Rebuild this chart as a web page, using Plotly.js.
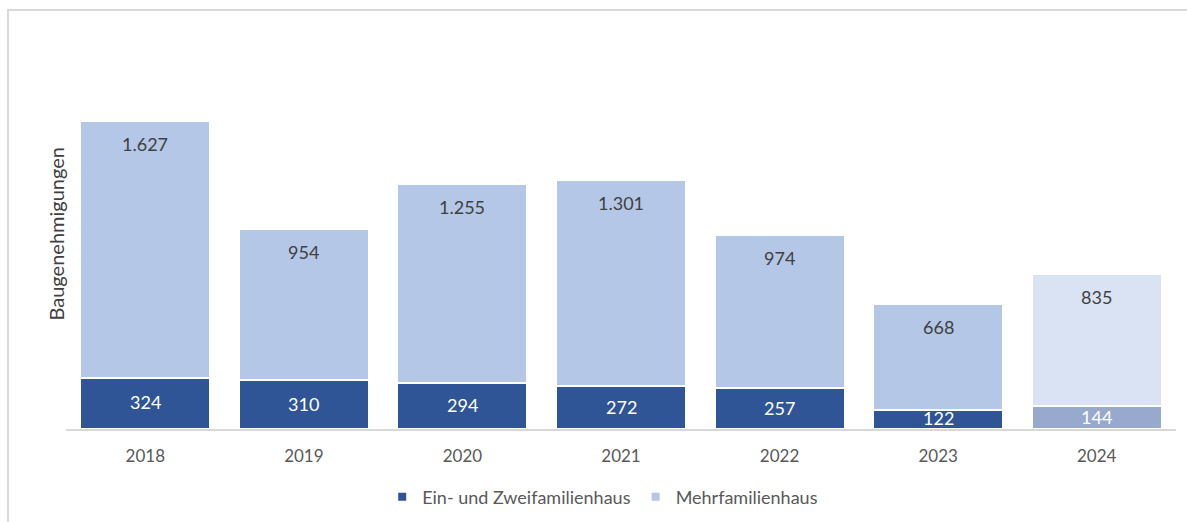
<!DOCTYPE html>
<html>
<head>
<meta charset="utf-8">
<script src="https://cdn.plot.ly/plotly-3.0.1.min.js"></script>
<style>
  html, body { margin: 0; padding: 0; background: #fff; overflow: hidden; }
  #wrap { position: relative; width: 1187px; height: 522px; }
  #chart { position: absolute; left: 0; top: 0; width: 1187px; height: 522px; }
  #frame { position: absolute; left: 7px; top: 9px; width: 1300px; height: 600px;
           border-left: 2px solid #d9d9d9; border-top: 2px solid #d9d9d9; pointer-events: none; }
</style>
</head>
<body>
<div id="wrap">
  <div id="chart"></div>
  <div id="frame"></div>
</div>
<script>
// ---- Data ----
const years = ['2018', '2019', '2020', '2021', '2022', '2023', '2024'];
const einZweifamilienhaus = [324, 310, 294, 272, 257, 122, 144];
const mehrfamilienhaus = [1627, 954, 1255, 1301, 974, 668, 835];
const seriesNames = ['Ein- und Zweifamilienhaus', 'Mehrfamilienhaus'];
const yTitle = 'Baugenehmigungen';

// ---- Styles ----
const darkBlue = '#2f5597';
const lightBlue = '#b4c7e7';
const darkBlue2024 = '#97aacd';
const lightBlue2024 = '#dae3f3';
const font = 'Lato, "Open Sans", sans-serif';

function fmt(v) {
  if (v >= 1000) return Math.floor(v / 1000) + '.' + String(v % 1000).padStart(3, '0');
  return String(v);
}

const lowerColors = years.map((y, i) => i === years.length - 1 ? darkBlue2024 : darkBlue);
const upperColors = years.map((y, i) => i === years.length - 1 ? lightBlue2024 : lightBlue);

const traces = [
  {
    type: 'bar', x: years, y: einZweifamilienhaus, name: seriesNames[0],
    marker: { color: lowerColors, line: { color: '#ffffff', width: 2 } },
    showlegend: false, hoverinfo: 'x+y+name'
  },
  {
    type: 'bar', x: years, y: mehrfamilienhaus, name: seriesNames[1],
    marker: { color: upperColors, line: { color: '#ffffff', width: 2 } },
    showlegend: false, hoverinfo: 'x+y+name'
  },
  {
    type: 'scatter', mode: 'markers', x: [years[0]], y: [null], name: seriesNames[0],
    marker: { symbol: 'square', size: 8, color: darkBlue }, showlegend: true, hoverinfo: 'skip'
  },
  {
    type: 'scatter', mode: 'markers', x: [years[0]], y: [null], name: seriesNames[1],
    marker: { symbol: 'square', size: 8, color: lightBlue }, showlegend: true, hoverinfo: 'skip'
  }
];

const annotations = [];
years.forEach((yr, i) => {
  annotations.push({
    x: i, y: einZweifamilienhaus[i] / 2, xref: 'x', yref: 'y',
    text: fmt(einZweifamilienhaus[i]), showarrow: false, yanchor: 'middle', yshift: 1,
    font: { family: font, size: 18, color: '#ffffff' }
  });
  annotations.push({
    x: i, y: einZweifamilienhaus[i] + mehrfamilienhaus[i], xref: 'x', yref: 'y',
    text: fmt(mehrfamilienhaus[i]), showarrow: false, yanchor: 'middle', yshift: -23,
    font: { family: font, size: 18, color: '#404040' }
  });
});
annotations.push({
  x: 0, y: 0.5, xref: 'paper', yref: 'paper', xanchor: 'center', yanchor: 'middle',
  xshift: -11, yshift: -3, textangle: -90, showarrow: false, text: yTitle,
  font: { family: font, size: 20, color: '#404040' }
});

const layout = {
  width: 1187, height: 522,
  margin: { l: 66, r: 11, t: 34, b: 93, pad: 0, autoexpand: false },
  paper_bgcolor: '#ffffff', plot_bgcolor: '#ffffff',
  barmode: 'stack', bargap: 0.18,
  font: { family: font, size: 16, color: '#595959' },
  xaxis: {
    type: 'category', categoryorder: 'array', categoryarray: years,
    range: [-0.5, years.length - 0.5],
    showline: true, linecolor: '#d9d9d9', linewidth: 2, ticks: '', showgrid: false,
    zeroline: false, ticklabelstandoff: 11, automargin: false,
    tickfont: { family: font, size: 17, color: '#595959' }, fixedrange: true
  },
  yaxis: {
    range: [0, 2500], showticklabels: false, showgrid: false, zeroline: false,
    showline: false, ticks: '', fixedrange: true, automargin: false
  },
  legend: {
    orientation: 'h', x: 0.4835, xanchor: 'center', y: -0.172, yanchor: 'middle',
    font: { family: font, size: 18, color: '#595959' }, itemwidth: 30,
    traceorder: 'normal', bgcolor: 'rgba(0,0,0,0)'
  },
  annotations: annotations,
  showlegend: true
};

Plotly.newPlot('chart', traces, layout, { displayModeBar: false, staticPlot: true });
</script>
</body>
</html>
